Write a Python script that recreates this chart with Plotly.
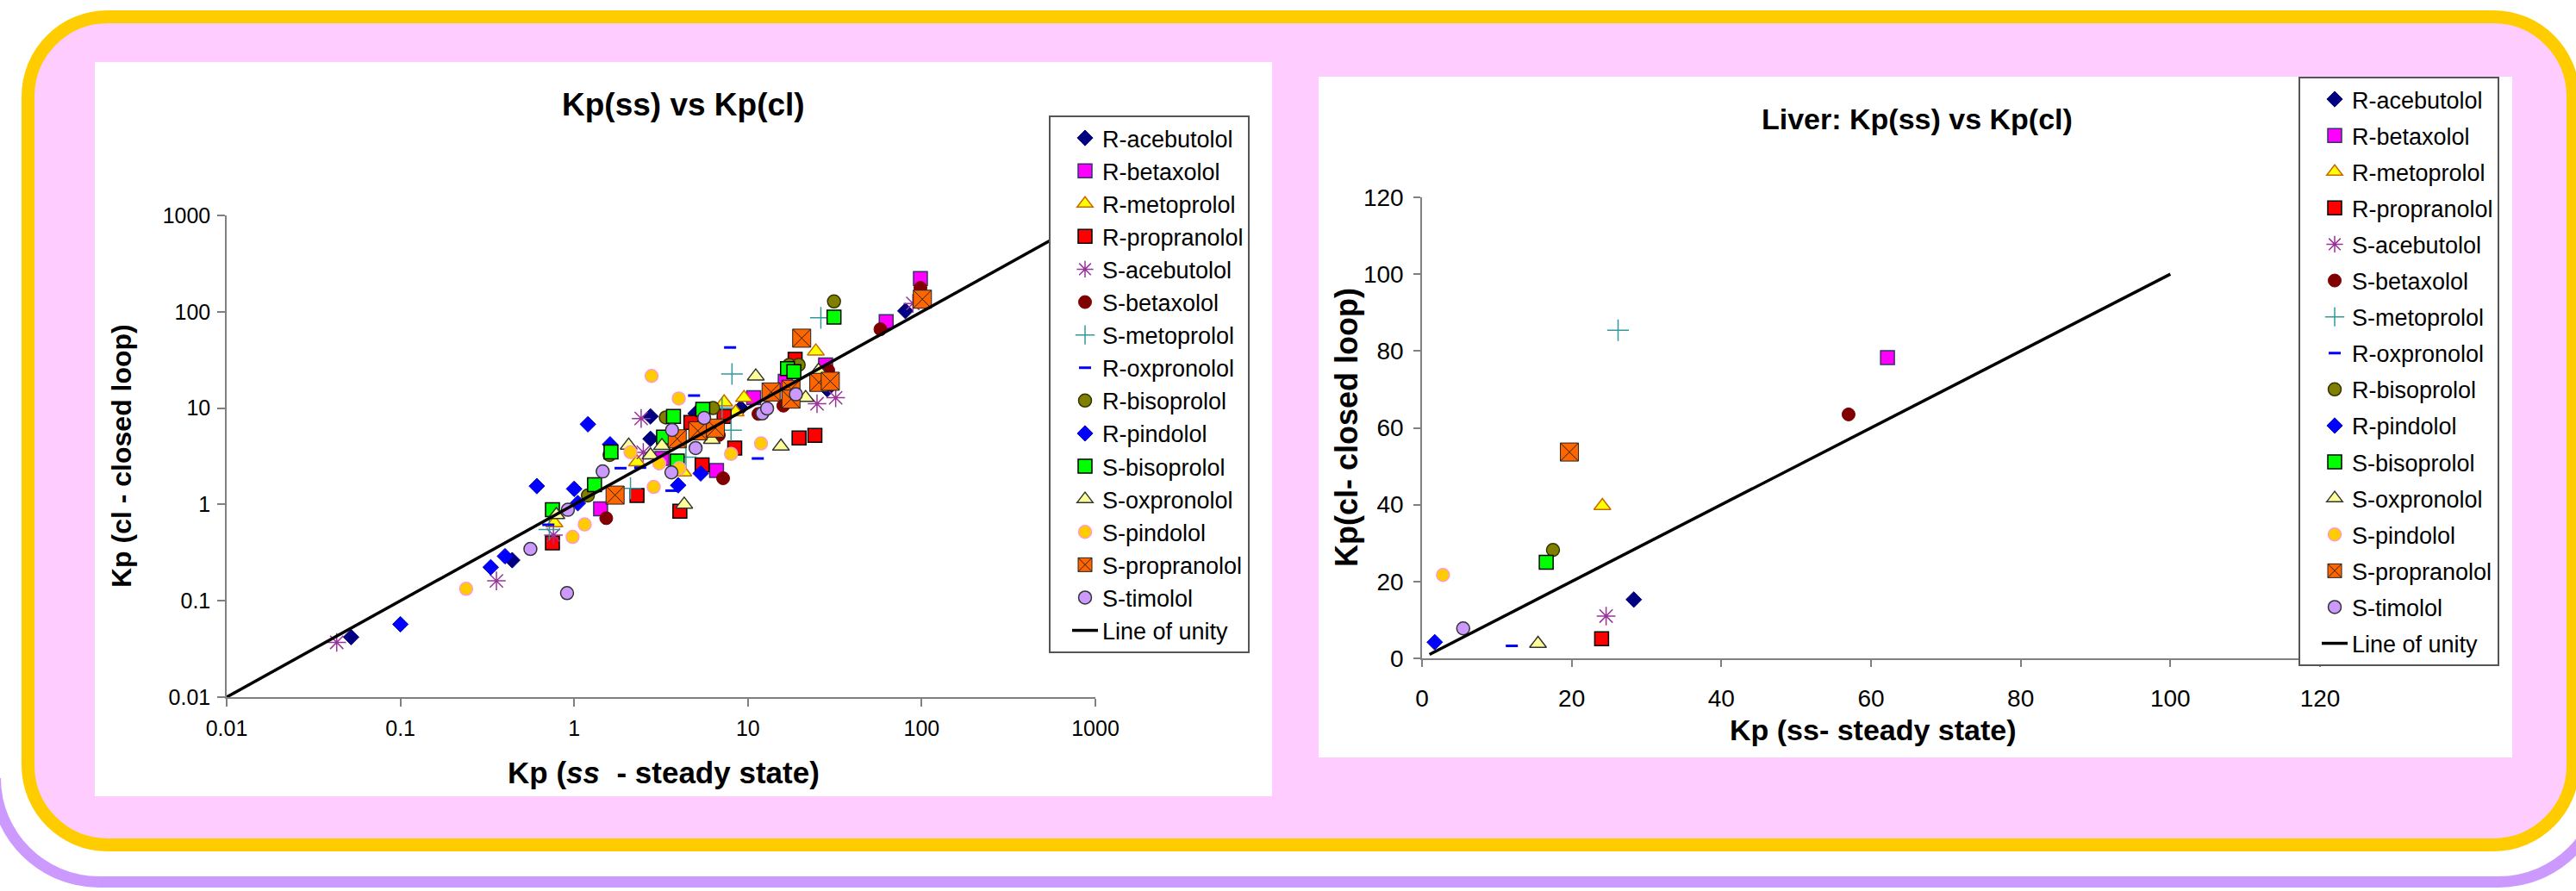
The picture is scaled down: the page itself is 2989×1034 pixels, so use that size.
import plotly.graph_objects as go

W, H = 2989, 1034
FONT = "Liberation Sans, Arial, sans-serif"

# ---------------- data: all tissues (Kp ss vs Kp cl) ----------------
series_names = ["R-acebutolol", "R-betaxolol", "R-metoprolol", "R-propranolol",
                "S-acebutolol", "S-betaxolol", "S-metoprolol", "R-oxpronolol",
                "R-bisoprolol", "R-pindolol", "S-bisoprolol", "S-oxpronolol",
                "S-pindolol", "S-propranolol", "S-timolol"]

r_acebutolol_ss = [0.052, 0.44, 2.75, 2.75, 5.0, 9.1, 17, 28.6, 80.6]
r_acebutolol_cl = [0.042, 0.264, 8.2, 4.8, 8.8, 10, 17, 15.7, 102]
r_betaxolol_ss = [1.42, 6.6, 3.2, 10.8, 16.4, 28, 62.5, 98.4]
r_betaxolol_cl = [0.90, 2.25, 3.0, 12.8, 19, 28, 79, 221]
r_metoprolol_ss = [0.77, 2.3, 4.25, 7.3, 8.5, 9.5, 24.6]
r_metoprolol_cl = [0.64, 2.75, 2.16, 11.5, 9.1, 12.8, 38.9]
r_propranolol_ss = [0.75, 2.30, 4.06, 5.45, 4.7, 7.3, 8.4, 19.7, 24.3, 18.7]
r_propranolol_cl = [0.40, 1.24, 0.85, 2.58, 7.1, 8.2, 3.85, 4.9, 5.2, 32.1]
s_acebutolol_ss = [0.043, 0.357, 0.76, 2.43, 2.5, 25, 32, 89]
s_acebutolol_cl = [0.037, 0.161, 0.48, 7.8, 3.47, 11.1, 12.8, 122]
s_betaxolol_ss = [1.53, 7.2, 6.8, 11.5, 16, 29, 57.9, 98.4]
s_betaxolol_cl = [0.72, 1.87, 5.25, 8.7, 10.6, 24.6, 65.8, 177]
s_metoprolol_ss = [0.72, 2.11, 4.4, 8.0, 7.1, 8.1, 26.3]
s_metoprolol_cl = [0.55, 1.47, 3.1, 5.9, 10, 22.6, 86.6]
r_oxpronolol_ss = [0.71, 1.85, 2.4, 3.63, 4.9, 7.9, 11.4]
r_oxpronolol_cl = [0.615, 2.38, 2.41, 1.39, 13.5, 42.6, 3.0]
r_bisoprolol_ss = [1.2, 1.6, 3.37, 6.3, 17.3, 19.6, 31.3]
r_bisoprolol_cl = [1.24, 3.26, 8.0, 10, 28.1, 28.1, 128]
r_pindolol_ss = [0.1, 0.331, 0.40, 0.61, 1.0, 1.05, 1.2, 1.61, 3.97, 5.35]
r_pindolol_cl = [0.057, 0.223, 0.29, 1.55, 1.45, 1.03, 6.8, 4.2, 1.58, 2.1]
s_bisoprolol_ss = [0.75, 1.31, 1.63, 3.27, 3.73, 3.92, 5.5, 16.9, 18.4, 31.3]
s_bisoprolol_cl = [0.88, 1.6, 3.5, 5.0, 8.2, 2.83, 9.7, 25.7, 23.9, 88]
s_oxpronolol_ss = [0.79, 2.06, 2.75, 3.2, 4.3, 6.2, 11.1, 15.5, 21.5, 25.5]
s_oxpronolol_cl = [0.78, 4.1, 3.24, 4.06, 1.0, 4.7, 21.4, 4.0, 12.8, 24.5]
s_pindolol_ss = [0.239, 0.98, 1.15, 2.11, 2.79, 2.87, 3.09, 4.0, 4.03, 8.0, 11.9]
s_pindolol_cl = [0.133, 0.46, 0.62, 3.49, 21.6, 1.52, 2.67, 12.6, 2.38, 3.35, 4.3]
s_propranolol_ss = [1.72, 3.92, 5.15, 6.5, 13.6, 17.7, 17.7, 20.4, 25.6, 29.8, 101]
s_propranolol_cl = [1.25, 4.8, 5.8, 6.2, 14.7, 15.7, 12.4, 53.2, 18.5, 19, 135]
s_timolol_ss = [0.56, 0.91, 0.92, 1.46, 3.63, 3.66, 5.0, 5.6, 12.1, 12.9, 18.9]
s_timolol_cl = [0.345, 0.12, 0.88, 2.2, 2.15, 5.93, 3.85, 7.9, 8.8, 9.9, 13.9]

unity_log = [0.01, 1000]

# ---------------- data: liver ----------------
liver_ss = [28.3, 62.2, 24.1, 24.0, 24.6, 57.0, 26.2, 12.0, 17.5, 1.7, 16.6, 15.5, 2.8, 19.7, 5.5]
liver_cl = [15.3, 78.3, 39.7, 5.1, 11.0, 63.5, 85.4, 3.25, 28.2, 4.2, 25.0, 3.8, 21.7, 53.7, 7.8]
unity_lin = [1, 100]

log_ticks = [0.01, 0.1, 1, 10, 100, 1000]
log_ticktext = ["0.01", "0.1", "1", "10", "100", "1000"]
lin_ticks = [0, 20, 40, 60, 80, 100, 120]

all_ss = [r_acebutolol_ss, r_betaxolol_ss, r_metoprolol_ss, r_propranolol_ss,
          s_acebutolol_ss, s_betaxolol_ss, s_metoprolol_ss, r_oxpronolol_ss,
          r_bisoprolol_ss, r_pindolol_ss, s_bisoprolol_ss, s_oxpronolol_ss,
          s_pindolol_ss, s_propranolol_ss, s_timolol_ss]
all_cl = [r_acebutolol_cl, r_betaxolol_cl, r_metoprolol_cl, r_propranolol_cl,
          s_acebutolol_cl, s_betaxolol_cl, s_metoprolol_cl, r_oxpronolol_cl,
          r_bisoprolol_cl, r_pindolol_cl, s_bisoprolol_cl, s_oxpronolol_cl,
          s_pindolol_cl, s_propranolol_cl, s_timolol_cl]

# ---------------- styles ----------------
styles = [
    dict(symbol="diamond", size=14, color="#000080", line=dict(color="#000080", width=1)),
    dict(symbol="square", size=16, color="#FF00FF", line=dict(color="#333366", width=1.5)),
    dict(symbol="triangle-up", size=17, color="#FFFF00", line=dict(color="#CC6600", width=1.5)),
    dict(symbol="square", size=16, color="#FF0000", line=dict(color="#000000", width=1.5)),
    dict(symbol="asterisk-open", size=18, color="#993399", line=dict(color="#993399", width=1.5)),
    dict(symbol="circle", size=15, color="#800000", line=dict(color="#800000", width=1)),
    dict(symbol="cross-thin-open", size=18, color="#339999", line=dict(color="#339999", width=1.5)),
    dict(symbol="line-ew-open", size=10, color="#0000FF", line=dict(color="#0000FF", width=3)),
    dict(symbol="circle", size=15, color="#808000", line=dict(color="#333300", width=1.5)),
    dict(symbol="diamond", size=14, color="#0000FF", line=dict(color="#0000CC", width=1)),
    dict(symbol="square", size=16, color="#00FF00", line=dict(color="#000000", width=1.5)),
    dict(symbol="triangle-up", size=17, color="#FFFF99", line=dict(color="#333333", width=1.5)),
    dict(symbol="circle", size=15, color="#FFCC00", line=dict(color="#FF99CC", width=1.5)),
    dict(symbol="square-x", size=21, color="#FF6600", line=dict(color="#222222", width=1)),
    dict(symbol="circle", size=15, color="#CC99FF", line=dict(color="#333333", width=1.5)),
]


def PX(x):
    return x / W


def PY(y):
    return 1 - y / H


def pth(cmds):
    s = ""
    for cmd, ps in cmds:
        s += cmd + " ".join("%.6f,%.6f" % (PX(a), PY(b)) for a, b in ps) + " "
    return s


def rr_path(x0, y0, x1, y1, r):
    k = 0.5523 * r
    return pth([("M", [(x0 + r, y0)]), ("L", [(x1 - r, y0)]),
                ("C", [(x1 - r + k, y0), (x1, y0 + r - k), (x1, y0 + r)]),
                ("L", [(x1, y1 - r)]),
                ("C", [(x1, y1 - r + k), (x1 - r + k, y1), (x1 - r, y1)]),
                ("L", [(x0 + r, y1)]),
                ("C", [(x0 + r - k, y1), (x0, y1 - r + k), (x0, y1 - r)]),
                ("L", [(x0, y0 + r)]),
                ("C", [(x0, y0 + r - k), (x0 + r - k, y0), (x0 + r, y0)])]) + "Z"


def bottom_arc_path(x0, x1, yb, r):
    # open path: left corner arc, bottom edge, right corner arc
    k = 0.5523 * r
    return pth([("M", [(x0, yb - r)]),
                ("C", [(x0, yb - r + k), (x0 + r - k, yb), (x0 + r, yb)]),
                ("L", [(x1 - r, yb)]),
                ("C", [(x1 - r + k, yb), (x1, yb - r + k), (x1, yb - r)])])


fig = go.Figure()

# left chart traces
for name, xs, ys, st in zip(series_names, all_ss, all_cl, styles):
    fig.add_trace(go.Scatter(x=xs, y=ys, mode="markers", name=name, marker=st,
                             xaxis="x", yaxis="y", legend="legend", cliponaxis=False))
fig.add_trace(go.Scatter(x=unity_log, y=unity_log, mode="lines", name="Line of unity",
                         line=dict(color="black", width=3.5), xaxis="x", yaxis="y",
                         legend="legend"))

# right chart traces
for i, (name, st) in enumerate(zip(series_names, styles)):
    fig.add_trace(go.Scatter(x=[liver_ss[i]], y=[liver_cl[i]], mode="markers", name=name,
                             marker=st, xaxis="x2", yaxis="y2", legend="legend2",
                             legendgroup="liver%d" % i, cliponaxis=False))
fig.add_trace(go.Scatter(x=unity_lin, y=unity_lin, mode="lines", name="Line of unity",
                         line=dict(color="black", width=3.5), xaxis="x2", yaxis="y2",
                         legend="legend2", legendgroup="liverline"))

shapes = [
    dict(type="path", path=bottom_arc_path(-5.5, 3019.9, 1023.5, 120.5), xref="paper", yref="paper",
         line=dict(color="#CC99FF", width=13), fillcolor="rgba(0,0,0,0)", layer="below"),
    dict(type="path", path=rr_path(32.5, 19.5, 2985.5, 980.5, 92.5), xref="paper", yref="paper",
         line=dict(color="#FFCC00", width=15), fillcolor="#FFCCFF", layer="below"),
    dict(type="rect", x0=PX(110), x1=PX(1476), y0=PY(924), y1=PY(72), xref="paper", yref="paper",
         line=dict(width=0), fillcolor="white", layer="below"),
    dict(type="rect", x0=PX(1530), x1=PX(2915), y0=PY(879), y1=PY(89), xref="paper", yref="paper",
         line=dict(width=0), fillcolor="white", layer="below"),
]

axis_common = dict(showline=True, linecolor="#808080", linewidth=1.5, ticks="outside",
                   tickcolor="#808080", tickwidth=1.5, showgrid=False, zeroline=False,
                   color="black", automargin=False)

annotations = [
    dict(text="<b>Kp(ss) vs Kp(cl)</b>", x=PX(793), y=PY(122), font=dict(size=37)),
    dict(text="<b>Kp (<i>ss</i>  - steady state)</b>", x=PX(770), y=PY(896), font=dict(size=35)),
    dict(text="<b>Kp (cl - closed loop)</b>", x=PX(141), y=PY(529), font=dict(size=32), textangle=-90),
    dict(text="<b>Liver: Kp(ss) vs Kp(cl)</b>", x=PX(2224), y=PY(138), font=dict(size=34)),
    dict(text="<b>Kp (ss- steady state)</b>", x=PX(2173), y=PY(847), font=dict(size=34)),
    dict(text="<b>Kp(cl- closed loop)</b>", x=PX(1562), y=PY(496), font=dict(size=36), textangle=-90),
]
for a in annotations:
    a.update(xref="paper", yref="paper", showarrow=False, xanchor="center", yanchor="middle")
    a["font"].update(family=FONT, color="black")

fig.update_layout(
    width=W, height=H, margin=dict(l=0, r=0, t=0, b=0, pad=0, autoexpand=False),
    paper_bgcolor="white", plot_bgcolor="white",
    font=dict(family=FONT, color="black"),
    shapes=shapes, annotations=annotations,
    xaxis=dict(type="log", range=[-2, 3], domain=[PX(263), PX(1271)], anchor="y",
               tickvals=log_ticks, ticktext=log_ticktext, ticklen=9,
               tickfont=dict(size=25, family=FONT), ticklabelstandoff=4, **axis_common),
    yaxis=dict(type="log", range=[-2, 3], domain=[PY(809), PY(250)], anchor="x",
               tickvals=log_ticks, ticktext=log_ticktext, ticklen=9,
               tickfont=dict(size=25, family=FONT), ticklabelstandoff=3, **axis_common),
    xaxis2=dict(range=[0, 120], domain=[PX(1650), PX(2692)], anchor="y2",
                tickvals=lin_ticks, ticklen=8,
                tickfont=dict(size=28, family=FONT), ticklabelstandoff=13, **axis_common),
    yaxis2=dict(range=[0, 120], domain=[PY(764), PY(229)], anchor="x2",
                tickvals=lin_ticks, ticklen=8,
                tickfont=dict(size=28, family=FONT), ticklabelstandoff=6, **axis_common),
    legend=dict(x=PX(1217), y=PY(134), xanchor="left", yanchor="top",
                bgcolor="white", bordercolor="#555555", borderwidth=2,
                font=dict(size=27, family=FONT, color="black"), indentation=20,
                tracegroupgap=0),
    legend2=dict(x=PX(2667), y=PY(89), xanchor="left", yanchor="top",
                 bgcolor="white", bordercolor="#555555", borderwidth=2,
                 font=dict(size=27, family=FONT, color="black"), indentation=20,
                 tracegroupgap=4, traceorder="grouped"),
    showlegend=True,
)

fig.write_html("out.html", config={"displayModeBar": False},
               post_script="document.body.style.margin='0';document.body.style.padding='0';"
                           "document.body.style.overflow='hidden';")
